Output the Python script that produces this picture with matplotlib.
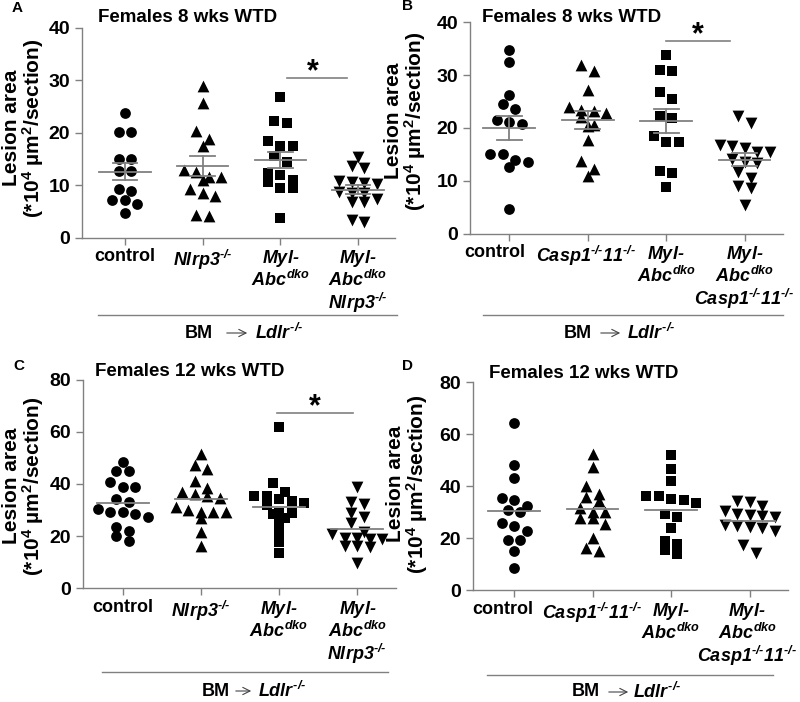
"""
Lesion area column scatter, 4 panels (A-D): females 8 / 12 wks WTD, BM -> Ldlr-/-.
Points are laid out in rows per group; A/B show mean +/- SEM, C/D mean only.
"""
import matplotlib as mpl
import matplotlib.pyplot as plt
import numpy as np
from matplotlib.lines import Line2D
from matplotlib.transforms import blended_transform_factory, offset_copy

mpl.rcParams["font.family"] = "Liberation Sans"
mpl.rcParams["font.weight"] = "bold"
mpl.rcParams["mathtext.fontset"] = "custom"
# digits / punctuation in math go through "rm": make it bold italic so gene names stay italic
mpl.rcParams["mathtext.rm"] = "Liberation Sans:bold:italic"
mpl.rcParams["mathtext.it"] = "Liberation Sans:bold:italic"
mpl.rcParams["mathtext.bf"] = "Liberation Sans:bold"
mpl.rcParams["mathtext.sf"] = "Liberation Sans:bold"

# ---- data (lesion area, *10^4 um^2/section) ----
A_control = [23.8, 20.1, 20.1, 15.1, 15.1, 12.7, 12.8, 9.0, 9.2, 7.1, 7.2, 6.5, 4.8]
A_nlrp3 = [29.0, 25.6, 20.3, 18.8, 17.5, 12.9, 12.6, 11.6, 11.6, 11.1, 9.2, 8.5, 7.9, 4.4, 4.1]
A_abc = [26.8, 22.3, 21.8, 18.5, 17.5, 17.5, 15.6, 14.5, 12.4, 12.0, 11.1, 10.7, 9.4, 9.4, 3.7]
A_abc_nlrp3 = [15.4, 13.7, 13.2, 10.8, 10.7, 10.4, 10.2, 8.8, 8.6, 8.5, 7.4, 6.9, 6.9, 3.4, 2.9]

B_control = [34.8, 32.5, 26.2, 24.5, 23.6, 21.6, 21.1, 20.7, 15.1, 15.0, 14.0, 13.6, 12.6, 4.7]
B_casp = [32.0, 30.8, 27.2, 24.0, 23.5, 23.2, 22.9, 22.0, 20.6, 20.3, 17.8, 13.7, 12.2, 11.0]
B_abc = [33.9, 31.0, 30.8, 26.8, 25.5, 22.3, 21.8, 18.4, 17.4, 17.4, 11.9, 11.4, 8.8]
B_abc_casp = [22.2, 20.9, 16.8, 16.6, 16.3, 15.5, 15.4, 14.2, 13.6, 13.4, 11.7, 10.6, 9.0, 8.6, 5.5]

C_control = [48.6, 45.0, 45.0, 40.9, 39.0, 38.8, 34.1, 33.1, 30.3, 29.4, 29.1, 28.4, 27.5, 23.6, 22.0, 20.1, 18.3]
C_nlrp3 = [51.5, 47.3, 45.6, 41.2, 38.6, 37.1, 36.0, 35.5, 34.5, 31.3, 30.0, 29.4, 29.4, 29.1, 26.8, 21.7, 16.2]
C_abc = [61.7, 40.3, 37.1, 35.5, 35.5, 34.2, 33.5, 32.6, 31.8, 29.0, 29.0, 28.5, 27.1, 24.9, 21.1, 17.6, 13.4]
C_abc_nlrp3 = [39.0, 33.2, 32.2, 28.8, 27.5, 24.9, 21.7, 20.7, 19.2, 19.2, 18.9, 18.9, 16.2, 16.2, 15.7, 9.6]

D_control = [64.2, 48.2, 43.1, 35.6, 34.6, 32.6, 31.0, 30.0, 25.8, 24.9, 22.8, 19.4, 19.4, 15.1, 8.5]
D_casp = [52.4, 47.3, 40.1, 37.0, 36.0, 34.5, 31.5, 30.0, 30.0, 27.7, 27.7, 25.4, 20.0, 16.4, 15.3]
D_abc = [52.1, 46.7, 42.1, 36.4, 36.4, 35.0, 34.7, 33.5, 29.2, 28.3, 23.8, 19.1, 17.7, 15.5, 13.8]
D_abc_casp = [34.4, 33.8, 32.6, 30.5, 29.2, 29.0, 28.7, 28.3, 25.0, 24.6, 24.4, 24.0, 23.0, 17.4, 14.5]

HY = "\u2010"  # short hyphen inside math (ASCII '-' would become a wide minus)
KO = r"^{" + HY + "/" + HY + "}"
nlrp3 = r"$Nlrp3" + KO + "$"
casp = r"$Casp1" + KO + "11" + KO + "$"
myl = r"$Myl" + HY + "$"
abc = r"$Abc^{dko}$"
labels_nlrp3 = ["control", nlrp3, myl + "\n" + abc, myl + "\n" + abc + "\n" + nlrp3]
labels_casp = ["control", casp, myl + "\n" + abc, myl + "\n" + abc + "\n" + casp]
ldlr = r"$Ldlr" + KO + "$"

markers = ["o", "^", "s", "v"]
marker_sizes = [60, 72, 54, 72]

W, H = 800, 702
GRAY = "#808080"

# layout in pixels: axes box (left, right, top, bottom), xlim, ylim, etc.
panels = [
    dict(letter="A", title="Females 8 wks WTD", groups=[A_control, A_nlrp3, A_abc, A_abc_nlrp3],
         labels=labels_nlrp3, label_dx=[0, 0, 0, 0], box=(82, 395, 28, 237.7),
         xlim=(-0.553, 3.476), ymax=40, step=10,
         sem=True, star=(2.09, 2.86, 30.5, 2.42), title_xy=(188, 18), letter_xy=(12, 8),
         ylab_xy=(24, 128), under=(98, 397, 315), bm=(213, 224, 250, 255, 333)),
    dict(letter="B", title="Females 8 wks WTD", groups=[B_control, B_casp, B_abc, B_abc_casp],
         labels=labels_casp, label_dx=[-0.19, -0.02, 0, 0], box=(470, 783, 22.3, 233.7),
         xlim=(-0.5, 3.49), ymax=40, step=10,
         sem=True, star=(2.0, 2.81, 36.5, 2.40), title_xy=(572, 18), letter_xy=(402, 6),
         ylab_xy=(406, 121), under=(483, 783, 315), bm=(592, 598, 623, 627, 333)),
    dict(letter="C", title="Females 12 wks WTD", groups=[C_control, C_nlrp3, C_abc, C_abc_nlrp3],
         labels=labels_nlrp3, label_dx=[0, 0, 0, 0], box=(83, 396, 379.7, 588.3),
         xlim=(-0.508, 3.495), ymax=80, step=20,
         sem=False, star=(1.97, 2.94, 67.1, 2.46), title_xy=(190, 372), letter_xy=(13, 366),
         ylab_xy=(24, 486), under=(102, 388, 672), bm=(230, 233, 254, 258, 691)),
    dict(letter="D", title="Females 12 wks WTD", groups=[D_control, D_casp, D_abc, D_abc_casp],
         labels=labels_casp, label_dx=[-0.15, 0, 0, -0.03], box=(473, 788, 382.3, 590.3),
         xlim=(-0.523, 3.49), ymax=80, step=20,
         sem=False, star=None, title_xy=(584, 373), letter_xy=(402, 366),
         ylab_xy=(408, 484), under=(487, 773, 675), bm=(600, 606, 631, 633, 692)),
]


def fx(px):
    return px / W


def fy(py):
    return 1 - py / H


def row_offsets(vals, xpx, ypx, row_px=8.5, gap_px=12.5):
    """Column-scatter layout: near-equal values share a row and sit side by side."""
    vals = np.asarray(vals, dtype=float)
    order = np.argsort(-vals, kind="stable")
    rows = []
    for i in order:
        if rows and (vals[rows[-1][0]] - vals[i]) * ypx <= row_px:
            rows[-1].append(i)
        else:
            rows.append([i])
    offs = np.zeros(vals.size)
    for row in rows:
        n = len(row)
        for j, i in enumerate(row):
            offs[i] = (j - (n - 1) / 2) * gap_px / xpx
    return offs


def draw_panel(fig, p):
    l, r, t, b = p["box"]
    ax = fig.add_axes([fx(l), fy(b), fx(r) - fx(l), fy(t) - fy(b)])
    ax.set_xlim(*p["xlim"])
    ax.set_ylim(0, p["ymax"])
    xpx = (r - l) / (p["xlim"][1] - p["xlim"][0])
    ypx = (b - t) / p["ymax"]

    for gi, vals in enumerate(p["groups"]):
        vals = np.asarray(vals, dtype=float)
        offs = row_offsets(vals, xpx, ypx)
        ax.scatter(gi + offs, vals, marker=markers[gi], s=marker_sizes[gi], color="black",
                   linewidths=0, zorder=2, clip_on=False)
        m = vals.mean()
        ax.plot([gi - 0.33, gi + 0.33], [m, m], color=GRAY, lw=1.3, zorder=3)
        if p["sem"]:
            se = vals.std(ddof=1) / np.sqrt(vals.size)
            for v in (m - se, m + se):
                ax.plot([gi - 0.16, gi + 0.16], [v, v], color=GRAY, lw=1.3, zorder=3)
            ax.plot([gi, gi], [m - se, m + se], color=GRAY, lw=1.3, zorder=3)

    for side in ("top", "right"):
        ax.spines[side].set_visible(False)
    for side in ("left", "bottom"):
        ax.spines[side].set_color(GRAY)
        ax.spines[side].set_linewidth(1.0)
    ax.set_yticks(np.arange(0, p["ymax"] + 1, p["step"]))
    ax.tick_params(axis="both", colors=GRAY, length=5, width=1.0, labelcolor="black",
                   labelsize=14)
    ax.set_xticks(range(4))
    ax.set_xticklabels([])
    for lab in ax.get_yticklabels():
        lab.set_fontweight("bold")

    # group labels (drawn by hand so a label can sit off its tick, as in B/D)
    base = blended_transform_factory(ax.transData, ax.transAxes)
    tr = offset_copy(base, fig=fig, y=-7.6, units="points")
    for gi, (lab, dx) in enumerate(zip(p["labels"], p["label_dx"])):
        ax.text(gi + dx, 0, lab, transform=tr, ha="center", va="top", fontsize=13,
                fontweight="bold", linespacing=1.05)

    if p["star"] is not None:
        x0, x1, yl, xs = p["star"]
        ax.plot([x0, x1], [yl, yl], color=GRAY, lw=1.2)
        trs = offset_copy(ax.transData, fig=fig, y=-1.5, units="points")
        ax.text(xs, yl, "*", transform=trs, ha="center", va="baseline", fontsize=22,
                fontweight="bold")

    fig.text(fx(p["title_xy"][0]), fy(p["title_xy"][1]), p["title"], ha="center",
             va="center", fontsize=13.5, fontweight="bold")
    fig.text(fx(p["letter_xy"][0]), fy(p["letter_xy"][1]), p["letter"], ha="left",
             va="center", fontsize=11, fontweight="bold")
    fig.text(fx(p["ylab_xy"][0]), fy(p["ylab_xy"][1]),
             "Lesion area\n(*10$^{\\mathsf{4}}$ µm$^{\\mathsf{2}}$/section)",
             rotation=90, ha="center", va="center", multialignment="center",
             fontsize=15, fontweight="bold", linespacing=0.98)

    ux0, ux1, uy = p["under"]
    fig.add_artist(Line2D([fx(ux0), fx(ux1)], [fy(uy), fy(uy)], color=GRAY, lw=1.0))
    bm_r, a0, a1, ld_l, by = p["bm"]
    fig.text(fx(bm_r), fy(by), "BM", ha="right", va="center", fontsize=13, fontweight="bold")
    fig.text(fx(ld_l), fy(by), ldlr, ha="left", va="center", fontsize=13)
    fig.add_artist(mpl.patches.FancyArrowPatch((fx(a0), fy(by)), (fx(a1), fy(by)),
                                               transform=fig.transFigure,
                                               arrowstyle="->", mutation_scale=13,
                                               color="#444444", lw=0.8))
    return ax


def main():
    fig = plt.figure(figsize=(W / 100, H / 100), dpi=100)
    for p in panels:
        draw_panel(fig, p)
    fig.savefig("out.png", dpi=100)
    plt.close(fig)


if __name__ == "__main__":
    main()
